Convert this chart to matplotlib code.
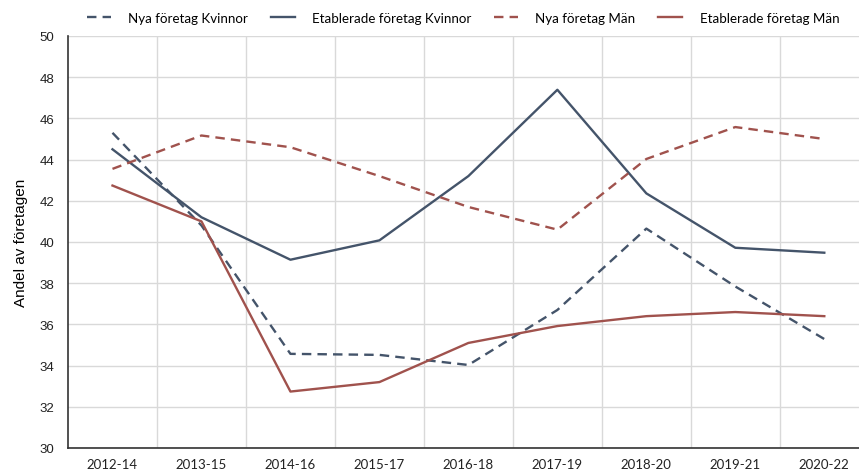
import numpy as np
import matplotlib.pyplot as plt

# --- data ---
periods = ['2012-14', '2013-15', '2014-16', '2015-17', '2016-18',
           '2017-19', '2018-20', '2019-21', '2020-22']
nya_kvinnor = [45.3, 40.8, 34.57, 34.52, 34.03, 36.7, 40.65, 37.84, 35.29]
etab_kvinnor = [44.5, 41.2, 39.14, 40.08, 43.2, 47.39, 42.36, 39.72, 39.48]
nya_man = [43.55, 45.17, 44.6, 43.2, 41.7, 40.6, 44.03, 45.58, 45.0]
etab_man = [42.74, 41.0, 32.74, 33.2, 35.1, 35.92, 36.4, 36.6, 36.4]

navy = '#44546a'
red = '#a0524d'
grid_c = '#d9d9d9'

fig = plt.figure(figsize=(8.59, 4.77), dpi=100)
ax = fig.add_axes([68 / 859, 28 / 477, 791 / 859, 412 / 477])

x = np.arange(len(periods))
dash = (0, (4, 2.6))
ax.plot(x, nya_kvinnor, color=navy, lw=1.7, linestyle=dash, label='Nya företag Kvinnor')
ax.plot(x, etab_kvinnor, color=navy, lw=1.7, label='Etablerade företag Kvinnor')
ax.plot(x, nya_man, color=red, lw=1.7, linestyle=dash, label='Nya företag Män')
ax.plot(x, etab_man, color=red, lw=1.7, label='Etablerade företag Män')

ax.set_xlim(-0.5, 8.39)
ax.set_ylim(30, 50)
ax.set_yticks(np.arange(30, 51, 2))
ax.set_xticks(x)
ax.set_xticklabels(periods, family='Lato', fontsize=9.5, color='#222222')
ax.set_xticks(x[:-1] + 0.5, minor=True)
for lab in ax.get_yticklabels():
    lab.set_family('Liberation Sans')
    lab.set_fontsize(9.5)
    lab.set_color('#222222')

ax.grid(axis='y', which='major', color=grid_c, lw=1)
ax.grid(axis='x', which='minor', color=grid_c, lw=1)
ax.set_axisbelow(True)
ax.tick_params(axis='both', which='both', length=0)
ax.tick_params(axis='x', pad=7)
ax.tick_params(axis='y', pad=10)

for s in ['top', 'right']:
    ax.spines[s].set_visible(False)
ax.spines['left'].set_color('#333333')
ax.spines['bottom'].set_color('#333333')
ax.spines['left'].set_linewidth(1.2)
ax.spines['bottom'].set_linewidth(1.2)

ax.set_ylabel('Andel av företagen', family='Liberation Sans', fontsize=11, labelpad=8)

fig.legend(loc='center', bbox_to_anchor=(463 / 859, 1 - 19 / 477), ncol=4, frameon=False,
           prop={'family': 'Lato', 'size': 9.6}, handlelength=1.8, columnspacing=1.7,
           handletextpad=1.3)

fig.savefig('out.png', dpi=100)
